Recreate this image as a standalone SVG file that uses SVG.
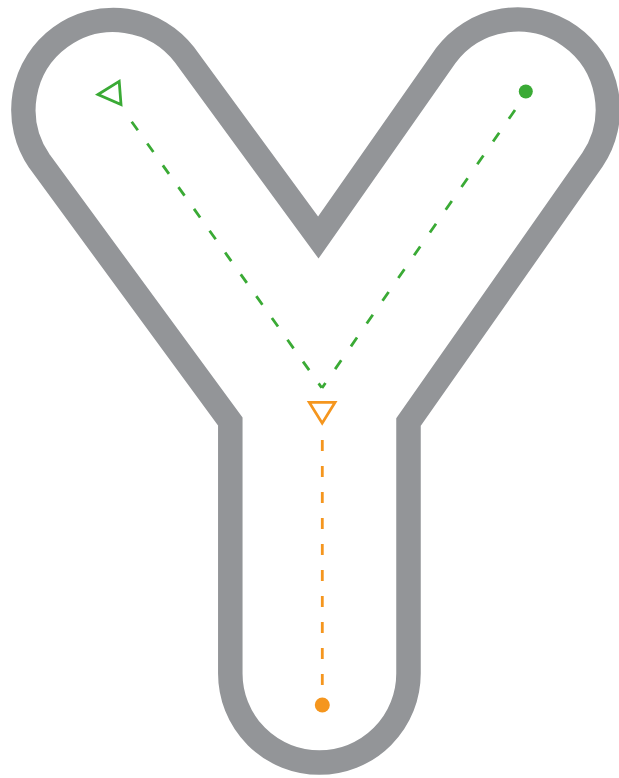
<svg xmlns="http://www.w3.org/2000/svg" width="619" height="778" viewBox="0 0 619 778">
  <style>
    .outline { fill: none; stroke: #939598; stroke-width: 24.5; stroke-linejoin: miter; stroke-miterlimit: 10; }
    .green { stroke: #3aaa35; }
    .orange { stroke: #f5961e; }
    .dash { fill: none; stroke-width: 2.8; stroke-linecap: butt; }
    .tri { fill: none; stroke-width: 2.8; stroke-linejoin: miter; }
  </style>
  <rect width="619" height="778" fill="#ffffff"/>
  <g id="letter-outline">
    <path class="outline" d="M230.3,421.6 L39.3,161 A90,90 0 0 1 184.7,55 L318.3,237.5 L445.5,55.9 A90,90 0 0 1 592.5,159.7 L408.5,422 L408.5,673.5 A89.1,89.1 0 0 1 230.3,673.5 Z"/>
  </g>
  <g id="connectors">
    <path class="dash green" d="M131.7,121.7 L321.7,387.7" stroke-dasharray="10.5 16.3"/>
    <path class="dash green" d="M515,110 L322,388" stroke-dasharray="10.7 17"/>
    <path class="dash orange" d="M322.3,440 L322.3,685" stroke-dasharray="11 15"/>
  </g>
  <g id="start-left">
    <polygon class="tri green" points="98,94.5 119.2,81.3 121,104.5"/>
  </g>
  <g id="start-right">
    <circle cx="525.8" cy="91.5" r="7" fill="#3aaa35"/>
  </g>
  <g id="start-stem">
    <polygon class="tri orange" points="309.3,402.4 335,402.4 322.2,423.2"/>
  </g>
  <g id="end-stem">
    <circle cx="322.3" cy="705" r="7.5" fill="#f5961e"/>
  </g>
</svg>
